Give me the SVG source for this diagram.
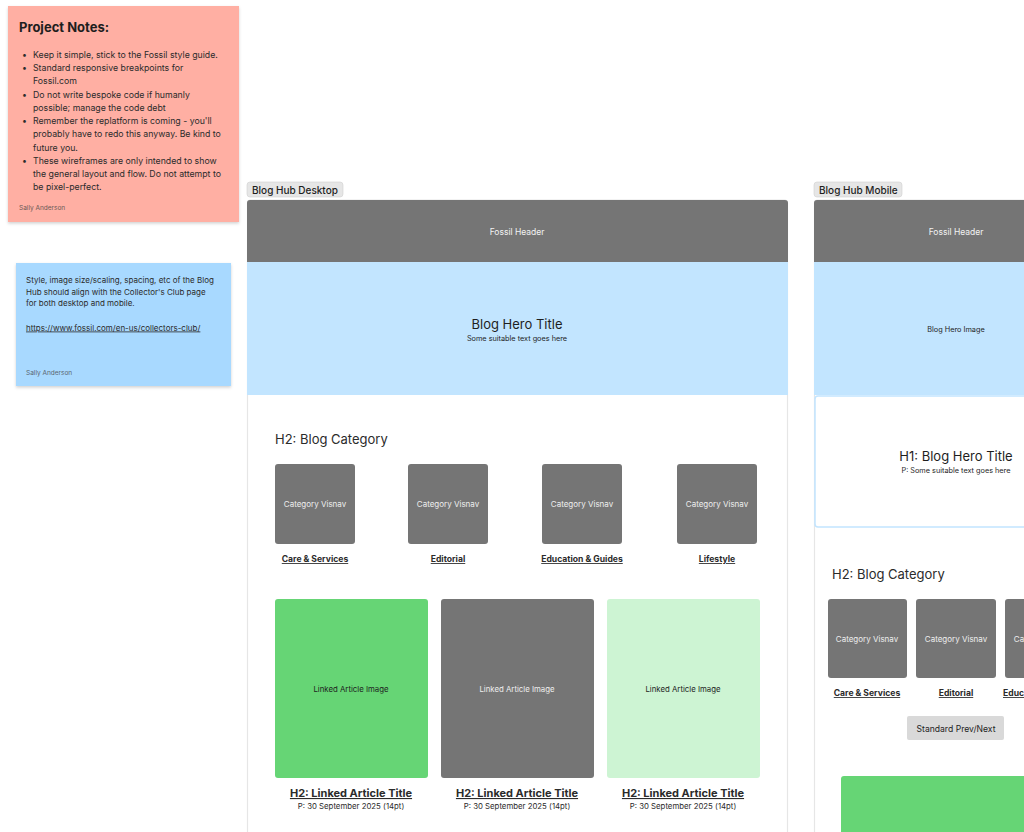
<svg xmlns="http://www.w3.org/2000/svg" width="1024" height="832" viewBox="0 0 1024 832">
<defs>
<filter id="sh" x="-10%" y="-10%" width="120%" height="130%"><feDropShadow dx="0" dy="1.5" stdDeviation="1.5" flood-color="#000" flood-opacity="0.18"/></filter>
<clipPath id="clipM"><rect x="800" y="0" width="224" height="832"/></clipPath>
<style>
text{font-family:Inter,"Noto Sans","Liberation Sans",sans-serif;fill:#1e1e1e}
.note{font-size:8.75px;fill:#2b2b2b}
.bnote{font-size:8px;fill:#2b2b2b}
.auth{font-size:6.5px;fill:#6b5a57}
.lbl{font-size:10px;font-weight:500;fill:#1e1e1e}
.lblbox{fill:#e6e6e6;stroke:#d0d0d0;stroke-width:0.6}
.frame{fill:#fff;stroke:#e6e6e6;stroke-width:1.2}
.gray{fill:#757575}
.wt{fill:#f2f2f2;font-size:8.5px;text-anchor:middle}
.hero{fill:#c2e5ff}
.cat{fill:#757575}
.catt{fill:#eeeeee;font-size:8px;text-anchor:middle}
.catl{font-size:8.6px;font-weight:700;text-anchor:middle;text-decoration:underline;fill:#2b2b2b}
.h2{font-size:13px;fill:#2b2b2b}
.img{font-size:7.8px;text-anchor:middle}
.imgw{font-size:7.8px;text-anchor:middle;fill:#eeeeee}
.at{font-size:11px;font-weight:700;text-anchor:middle;text-decoration:underline;fill:#2b2b2b}
.dt{font-size:7.8px;text-anchor:middle;fill:#2b2b2b}
.start{text-anchor:start}
</style>
</defs>
<rect width="1024" height="832" fill="#ffffff"/>

<g id="project-notes">
<rect x="8" y="6" width="231" height="216" fill="#ffafa3" filter="url(#sh)"/>
<text x="19" y="32" font-size="13" font-weight="700" fill="#1e1e1e">Project Notes:</text>
<text x="22" y="58" class="note">•</text><text x="33" y="58" class="note">Keep it simple, stick to the Fossil style guide.</text>
<text x="22" y="71" class="note">•</text><text x="33" y="71" class="note">Standard responsive breakpoints for</text>
<text x="33" y="84" class="note">Fossil.com</text>
<text x="22" y="98" class="note">•</text><text x="33" y="98" class="note">Do not write bespoke code if humanly</text>
<text x="33" y="111" class="note">possible; manage the code debt</text>
<text x="22" y="124" class="note">•</text><text x="33" y="124" class="note">Remember the replatform is coming - you'll</text>
<text x="33" y="137" class="note">probably have to redo this anyway. Be kind to</text>
<text x="33" y="151" class="note">future you.</text>
<text x="22" y="164" class="note">•</text><text x="33" y="164" class="note">These wireframes are only intended to show</text>
<text x="33" y="177" class="note">the general layout and flow. Do not attempt to</text>
<text x="33" y="190" class="note">be pixel-perfect.</text>
<text x="19" y="210" class="auth">Sally Anderson</text>
</g>

<g id="style-note">
<rect x="16" y="263" width="215" height="123" fill="#a8d9ff" filter="url(#sh)"/>
<text x="26" y="282.5" class="bnote">Style, image size/scaling, spacing, etc of the Blog</text>
<text x="26" y="294.5" class="bnote">Hub should align with the Collector's Club page</text>
<text x="26" y="306" class="bnote">for both desktop and mobile.</text>
<text x="26" y="330.5" class="bnote" text-decoration="underline">https://www.fossil.com/en-us/collectors-club/</text>
<text x="26" y="375" class="auth" style="fill:#5a6570">Sally Anderson</text>
</g>

<g id="desktop-frame">
<rect x="247" y="182" width="96" height="15" rx="3" class="lblbox"/>
<text x="252" y="193.5" class="lbl">Blog Hub Desktop</text>
<rect x="247.5" y="200" width="540" height="640" rx="3" class="frame"/>
</g>
<g id="desktop-header">
<path d="M247 203a3 3 0 0 1 3-3h535a3 3 0 0 1 3 3v59h-541z" class="gray"/>
<text x="517" y="235" class="wt">Fossil Header</text>
</g>
<g id="desktop-hero">
<rect x="247" y="262" width="541" height="133" class="hero"/>
<text x="517" y="329" font-size="13" text-anchor="middle" fill="#2b2b2b">Blog Hero Title</text>
<text x="517" y="341" font-size="7.3" text-anchor="middle" fill="#2b2b2b">Some suitable text goes here</text>
</g>
<g id="desktop-category">
<text x="275" y="444" class="h2">H2: Blog Category</text>
<rect x="275" y="464" width="80" height="80" rx="3" class="cat"/>
<text x="315" y="507" class="catt">Category Visnav</text>
<text x="315" y="562" class="catl">Care &amp; Services</text>
<rect x="408" y="464" width="80" height="80" rx="3" class="cat"/>
<text x="448" y="507" class="catt">Category Visnav</text>
<text x="448" y="562" class="catl">Editorial</text>
<rect x="542" y="464" width="80" height="80" rx="3" class="cat"/>
<text x="582" y="507" class="catt">Category Visnav</text>
<text x="582" y="562" class="catl">Education &amp; Guides</text>
<rect x="677" y="464" width="80" height="80" rx="3" class="cat"/>
<text x="717" y="507" class="catt">Category Visnav</text>
<text x="717" y="562" class="catl">Lifestyle</text>
</g>
<g id="desktop-articles">
<rect x="275" y="599" width="153" height="179" rx="3" fill="#66d575"/>
<text x="351" y="692" class="img">Linked Article Image</text>
<text x="351" y="797" class="at">H2: Linked Article Title</text>
<text x="351" y="809" class="dt">P: 30 September 2025 (14pt)</text>
<rect x="441" y="599" width="153" height="179" rx="3" fill="#757575"/>
<text x="517" y="692" class="imgw">Linked Article Image</text>
<text x="517" y="797" class="at">H2: Linked Article Title</text>
<text x="517" y="809" class="dt">P: 30 September 2025 (14pt)</text>
<rect x="607" y="599" width="153" height="179" rx="3" fill="#cdf4d3"/>
<text x="683" y="692" class="img">Linked Article Image</text>
<text x="683" y="797" class="at">H2: Linked Article Title</text>
<text x="683" y="809" class="dt">P: 30 September 2025 (14pt)</text>
</g>

<g id="mobile" clip-path="url(#clipM)">
<g id="mobile-frame">
<rect x="814" y="182" width="88" height="15" rx="3" class="lblbox"/>
<text x="819" y="193.5" class="lbl">Blog Hub Mobile</text>
<rect x="814.5" y="200" width="290" height="640" rx="3" class="frame"/>
</g>
<g id="mobile-header">
<path d="M814 203a3 3 0 0 1 3-3h290v62h-293z" class="gray"/>
<text x="956" y="235" class="wt">Fossil Header</text>
</g>
<g id="mobile-hero">
<rect x="814" y="262" width="292" height="133" class="hero"/>
<text x="956" y="332" font-size="7.3" text-anchor="middle" fill="#2b2b2b">Blog Hero Image</text>
</g>
<g id="mobile-hero-title">
<rect x="815" y="396" width="290" height="131" rx="3" fill="#ffffff" stroke="#c2e5ff" stroke-width="1.5"/>
<text x="956" y="461" font-size="13" text-anchor="middle" fill="#2b2b2b">H1: Blog Hero Title</text>
<text x="956" y="473" font-size="7.3" text-anchor="middle" fill="#2b2b2b">P: Some suitable text goes here</text>
</g>
<g id="mobile-category">
<text x="832" y="579" class="h2">H2: Blog Category</text>
<rect x="828" y="599" width="79" height="79" rx="3" class="cat"/>
<text x="867" y="642" class="catt">Category Visnav</text>
<text x="867" y="696" class="catl">Care &amp; Services</text>
<rect x="916" y="599" width="80" height="79" rx="3" class="cat"/>
<text x="956" y="642" class="catt">Category Visnav</text>
<text x="956" y="696" class="catl">Editorial</text>
<rect x="1005" y="599" width="80" height="79" rx="3" class="cat"/>
<text x="1045" y="642" class="catt">Category Visnav</text>
<text x="1003" y="696" class="catl start">Education &amp; Guides</text>
</g>
<g id="mobile-prevnext">
<rect x="907" y="716" width="97" height="24" rx="2" fill="#d9d9d9"/>
<text x="956" y="731.5" font-size="8.6" text-anchor="middle" fill="#2b2b2b">Standard Prev/Next</text>
</g>
<g id="mobile-article">
<rect x="841" y="776" width="240" height="80" rx="3" fill="#66d575"/>
</g>
</g>
<g id="connectors"></g>
</svg>
